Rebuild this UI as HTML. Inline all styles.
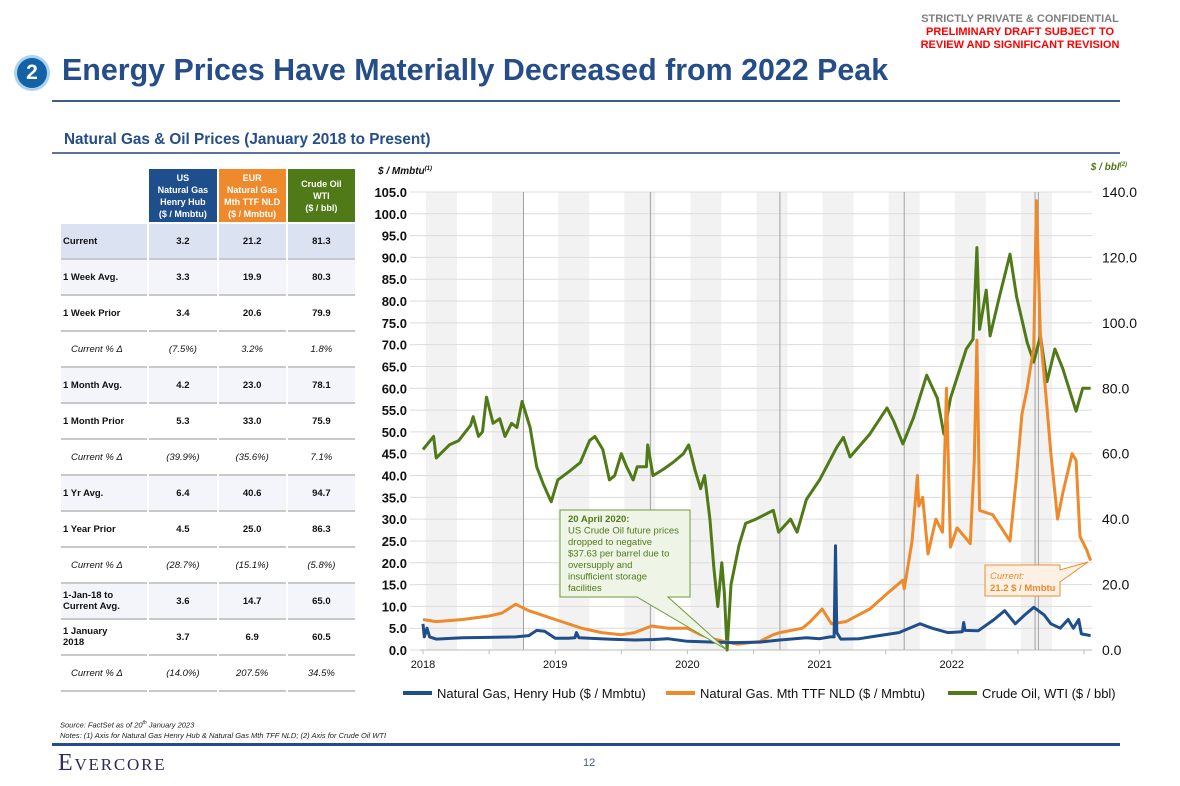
<!DOCTYPE html>
<html><head><meta charset="utf-8">
<style>
body{margin:0;width:1180px;height:786px;background:#fff;position:relative;overflow:hidden;font-family:"Liberation Sans",Arial,sans-serif}
.abs{position:absolute}
.conf{left:895px;width:250px;text-align:center;font-weight:bold;font-size:11px;line-height:13px;top:13px}
table{position:absolute;left:59px;top:169px;border-collapse:separate;border-spacing:2px 0;font-size:9.5px;table-layout:fixed;width:298px}
td{height:34px;border-bottom:2px solid #c8c8c8;text-align:center;font-weight:bold;color:#111;padding:0}
td.l{text-align:left;padding-left:2px}
tr.av td{background:#f3f5fa}
tr.cur td{background:#dbe2f1}
tr.pc td{font-weight:normal;font-style:italic}
tr.pc td.l{padding-left:10px}
th{height:53px;color:#fff;font-size:9px;line-height:12px;font-weight:bold;border-bottom:2px solid #fff;padding:0}
</style></head><body>
<div class="abs conf"><span style="color:#7f7f7f">STRICTLY PRIVATE &amp; CONFIDENTIAL</span><br><span style="color:#ff0000">PRELIMINARY DRAFT SUBJECT TO<br>REVIEW AND SIGNIFICANT REVISION</span></div>
<div class="abs" style="left:14px;top:55px;width:36px;height:36px;border-radius:50%;background:#a9d3f0"><div style="position:absolute;left:3px;top:3px;width:30px;height:30px;border-radius:50%;background:#1561a6;color:#fff;font-weight:bold;font-size:21px;line-height:30px;text-align:center">2</div></div>
<div class="abs" style="left:62px;top:53px;font-size:30.4px;font-weight:bold;color:#244d8a">Energy Prices Have Materially Decreased from 2022 Peak</div>
<div class="abs" style="left:52px;top:100px;width:1068px;height:2px;background:#3d5c8c"></div>
<div class="abs" style="left:64px;top:131px;font-size:15.3px;font-weight:bold;color:#244d8a">Natural Gas &amp; Oil Prices (January 2018 to Present)</div>
<div class="abs" style="left:52px;top:152px;width:1068px;height:2px;background:#5a7399"></div>

<table>
<colgroup><col style="width:86px"><col style="width:67px"><col style="width:67px"><col style="width:67px"></colgroup>
<tr><th style="background:none"></th><th style="background:#1f4e8c">US<br>Natural Gas<br>Henry Hub<br>($ / Mmbtu)</th><th style="background:#ee8a2b">EUR<br>Natural Gas<br>Mth TTF NLD<br>($ / Mmbtu)</th><th style="background:#4f7a17">Crude Oil<br>WTI<br>($ / bbl)</th></tr>
<tr class="cur"><td class="l">Current</td><td>3.2</td><td>21.2</td><td>81.3</td></tr>
<tr class="av"><td class="l">1 Week Avg.</td><td>3.3</td><td>19.9</td><td>80.3</td></tr>
<tr><td class="l">1 Week Prior</td><td>3.4</td><td>20.6</td><td>79.9</td></tr>
<tr class="pc"><td class="l">Current % Δ</td><td>(7.5%)</td><td>3.2%</td><td>1.8%</td></tr>
<tr class="av"><td class="l">1 Month Avg.</td><td>4.2</td><td>23.0</td><td>78.1</td></tr>
<tr><td class="l">1 Month Prior</td><td>5.3</td><td>33.0</td><td>75.9</td></tr>
<tr class="pc"><td class="l">Current % Δ</td><td>(39.9%)</td><td>(35.6%)</td><td>7.1%</td></tr>
<tr class="av"><td class="l">1 Yr Avg.</td><td>6.4</td><td>40.6</td><td>94.7</td></tr>
<tr><td class="l">1 Year Prior</td><td>4.5</td><td>25.0</td><td>86.3</td></tr>
<tr class="pc"><td class="l">Current % Δ</td><td>(28.7%)</td><td>(15.1%)</td><td>(5.8%)</td></tr>
<tr class="av"><td class="l">1-Jan-18 to<br>Current Avg.</td><td>3.6</td><td>14.7</td><td>65.0</td></tr>
<tr><td class="l">1 January<br>2018</td><td>3.7</td><td>6.9</td><td>60.5</td></tr>
<tr class="pc"><td class="l">Current % Δ</td><td>(14.0%)</td><td>207.5%</td><td>34.5%</td></tr>
</table>

<svg class="abs" style="left:0;top:0" width="1180" height="786" id="chart"></svg>

<div class="abs" style="left:60px;top:718px;font-size:7.5px;font-style:italic;line-height:10px;color:#222">Source: FactSet as of 20<sup style="font-size:5px">th</sup> January 2023<br>Notes: (1) Axis for Natural Gas Henry Hub &amp; Natural Gas Mth TFF NLD; (2) Axis for Crude Oil WTI</div>
<div class="abs" style="left:52px;top:743px;width:1068px;height:3px;background:#244d8a"></div>
<div class="abs" style="left:58px;top:750px;font-family:'Liberation Serif',serif;font-size:24px;color:#2b2a5c;font-variant:small-caps;letter-spacing:1.8px">Evercore</div>
<div class="abs" style="left:583px;top:757px;font-size:11px;color:#3d5c8c">12</div>

<script>
const hhDates=[2018.0,2018.01,2018.03,2018.05,2018.1,2018.3,2018.5,2018.7,2018.8,2018.86,2018.92,2019.0,2019.1,2019.15,2019.16,2019.18,2019.4,2019.6,2019.75,2019.85,2020.0,2020.2,2020.35,2020.55,2020.7,2020.9,2021.0,2021.08,2021.11,2021.12,2021.13,2021.16,2021.3,2021.45,2021.6,2021.76,2021.85,2021.97,2022.08,2022.09,2022.1,2022.2,2022.32,2022.4,2022.48,2022.55,2022.62,2022.7,2022.75,2022.82,2022.88,2022.92,2022.96,2022.98,2023.05];
const hhValues=[6,3,5,3,2.5,2.8,2.9,3,3.3,4.5,4.3,2.7,2.7,2.8,4,2.8,2.5,2.3,2.4,2.6,2,1.8,1.7,1.8,2.3,2.8,2.6,3,3,23.9,4,2.5,2.6,3.3,4,6,5,4,4.2,6.3,4.5,4.4,7,9,6,8,9.8,8,6,5,7,5,7,3.7,3.3];
const ttfDates=[2018.0,2018.1,2018.3,2018.5,2018.6,2018.7,2018.8,2018.9,2019.0,2019.2,2019.35,2019.5,2019.6,2019.73,2019.85,2020.0,2020.1,2020.2,2020.38,2020.55,2020.65,2020.7,2020.87,2020.93,2021.02,2021.09,2021.2,2021.38,2021.51,2021.63,2021.64,2021.7,2021.74,2021.75,2021.78,2021.82,2021.88,2021.93,2021.96,2021.99,2022.04,2022.14,2022.17,2022.19,2022.21,2022.31,2022.44,2022.49,2022.53,2022.57,2022.62,2022.64,2022.67,2022.71,2022.75,2022.8,2022.84,2022.91,2022.94,2022.97,2023.02,2023.05];
const ttfValues=[7,6.5,7,7.8,8.5,10.5,9,8,7,5,4,3.5,4,5.5,5,5,3.5,2.5,1.3,2,3.5,4,5,6.5,9.4,6,6.5,9.4,12.9,16,14,25,40,33,35,22,30,27,60,23.6,28,24.4,43.5,71,32,31,25,40,54,60,69.5,103,72,59,45,30,36,45,43.5,26,23,20.5];
const oilDates=[2018.0,2018.08,2018.1,2018.2,2018.27,2018.36,2018.38,2018.42,2018.45,2018.48,2018.53,2018.58,2018.62,2018.67,2018.71,2018.75,2018.81,2018.86,2018.91,2018.97,2019.02,2019.11,2019.19,2019.26,2019.3,2019.36,2019.41,2019.45,2019.5,2019.54,2019.59,2019.62,2019.69,2019.7,2019.74,2019.82,2019.89,2019.97,2020.01,2020.06,2020.1,2020.13,2020.17,2020.2,2020.23,2020.26,2020.28,2020.3,2020.33,2020.39,2020.44,2020.52,2020.65,2020.69,2020.78,2020.83,2020.9,2021.0,2021.13,2021.18,2021.23,2021.38,2021.51,2021.56,2021.63,2021.71,2021.81,2021.89,2021.94,2021.99,2022.11,2022.16,2022.19,2022.21,2022.26,2022.29,2022.36,2022.44,2022.49,2022.57,2022.62,2022.67,2022.72,2022.78,2022.84,2022.94,2022.99,2023.05];
const oilValues=[61.3,65.3,58.7,62.7,64,68.7,71.3,65.3,66.7,77.3,69.3,70.7,65.3,69.3,68,76,68,56,50.7,45.3,52,54.7,57.3,64,65.3,61.3,52,53.3,60,56,52,56,56,62.7,53.3,55.3,57.3,60,62.7,54.7,49.3,53.3,40,25.3,13.3,26.7,17.3,0,20,32,38.7,40,42.7,36,40,36,46,52,62,65,59,66,74,70,63,71,84,77,66,77,92,95,123,98,110,96,108,121,108,94,88,96,82,92,86,73,80,80];
const leftTicks=[0,5,10,15,20,25,30,35,40,45,50,55,60,65,70,75,80,85,90,95,100,105];
const rightTicks=[0,20,40,60,80,100,120,140];
const yearLabels=["2018","2019","2020","2021","2022"];

const svg=document.getElementById('chart');
const NS='http://www.w3.org/2000/svg';
const X0=423,PX_YEAR=132.2,Y0=650,YT=192;
function xs(t){return X0+(t-2018)*PX_YEAR;}
function yl(v){return Y0-(v/105)*(Y0-YT);}
function yr(v){return Y0-(v/140)*(Y0-YT);}
function mk(tag,attrs,parent){const e=document.createElementNS(NS,tag);for(const k in attrs)e.setAttribute(k,attrs[k]);(parent||svg).appendChild(e);return e;}

for(let k=0;k<10;k++){
  const b=mk('rect',{x:xs(2018+k*0.5)+3,y:YT,width:31,height:Y0-YT,fill:'#f2f2f2'});
  
  
}
leftTicks.forEach(v=>{
  const g=mk('line',{x1:410,x2:1092,y1:yl(v),y2:yl(v),stroke:'#dcdcdc','stroke-width':1});
  
  
  const t=mk('text',{x:407,y:yl(v)+5,'text-anchor':'end','font-size':13,'font-weight':'bold',fill:'#111'});
  t.textContent=v.toFixed(1);
  
  
});
rightTicks.forEach(v=>{
  const t=mk('text',{x:1102,y:yr(v)+5,'font-size':14,fill:'#111'});
  t.textContent=v.toFixed(1);
  
  
});
[2018.76,2019.72,2020.7,2021.64,2022.63].forEach(t=>{
  const l=mk('line',{x1:xs(t),x2:xs(t),y1:YT,y2:Y0,stroke:'#a0a0a0','stroke-width':1});
  
  
});
mk('line',{x1:xs(2022.64)+2,x2:xs(2022.64)+2,y1:YT,y2:Y0,stroke:'#a0a0a0','stroke-width':1});
const ax=mk('line',{x1:420,x2:1092,y1:Y0,y2:Y0,stroke:'#bbb','stroke-width':1});


yearLabels.forEach((s,i)=>{
  const t=mk('text',{x:xs(2018+i),y:668,'text-anchor':'middle','font-size':11,fill:'#111'});
  t.textContent=s;
  
  
});
for(let k=0;k<=10;k++){mk('line',{x1:xs(2018+k*0.5),x2:xs(2018+k*0.5),y1:Y0,y2:Y0+4,stroke:'#bbb'});}

function series(dates,vals,yf,color,name){
  const d=dates.map((t,i)=>(i?'L':'M')+xs(t).toFixed(1)+' '+yf(Math.max(0,vals[i])).toFixed(1)).join(' ');
  const p=mk('path',{d:d,fill:'none',stroke:color,'stroke-width':3,'stroke-linejoin':'round'});
  
  
}
series(oilDates,oilValues,yr,'#4f7a17','crude-oil-line');
series(ttfDates,ttfValues,yl,'#ee8a2b','ttf-gas-line');
series(hhDates,hhValues,yl,'#1f4e8c','henry-hub-line');

let t=mk('text',{x:378,y:174,'font-size':10,'font-weight':'bold','font-style':'italic',fill:'#111'});
t.innerHTML='$ / Mmbtu<tspan font-size="6" dy="-4">(1)</tspan>';


t=mk('text',{x:1127,y:170,'text-anchor':'end','font-size':10,'font-weight':'bold','font-style':'italic',fill:'#4f7a17'});
t.innerHTML='$ / bbl<tspan font-size="6" dy="-4">(2)</tspan>';



let g=mk('g',{});


mk('path',{d:'M560 510 H690 V597 H668 L'+xs(2020.3)+' '+Y0+' L637 597 H560 Z',fill:'#eef5e6',stroke:'#6f9a3c','stroke-width':1},g);
const lines=[['20 April 2020:',true],['US Crude Oil future prices',false],['dropped to negative',false],['$37.63 per barrel due to',false],['oversupply and',false],['insufficient storage',false],['facilities',false]];
lines.forEach((l,i)=>{const e=mk('text',{x:568,y:522+i*11.5,'font-size':9.5,fill:'#4f7a17','font-weight':l[1]?'bold':'normal'},g);e.textContent=l[0];});
g=mk('g',{});


mk('path',{d:'M985 565 H1060 V570 L1088 562 L1060 582 V596 H985 Z',fill:'#fdf1e6',stroke:'#ee8a2b','stroke-width':1},g);
let e=mk('text',{x:990,y:579,'font-size':9.5,'font-style':'italic',fill:'#ee8a2b'},g);e.textContent='Current:';
e=mk('text',{x:990,y:591,'font-size':9.5,'font-weight':'bold',fill:'#ee8a2b'},g);e.textContent='21.2 $ / Mmbtu';

[[403,'#1f4e8c','Natural Gas, Henry Hub ($ / Mmbtu)','legend-henry-hub'],[666,'#ee8a2b','Natural Gas. Mth TTF NLD ($ / Mmbtu)','legend-ttf'],[948,'#4f7a17','Crude Oil, WTI ($ / bbl)','legend-crude-oil']].forEach(a=>{
  const lg=mk('g',{});
  
  
  mk('line',{x1:a[0],x2:a[0]+29,y1:693,y2:693,stroke:a[1],'stroke-width':4},lg);
  const tx=mk('text',{x:a[0]+34,y:698,'font-size':13,fill:'#111'},lg);tx.textContent=a[2];
});
</script>
</body></html>
